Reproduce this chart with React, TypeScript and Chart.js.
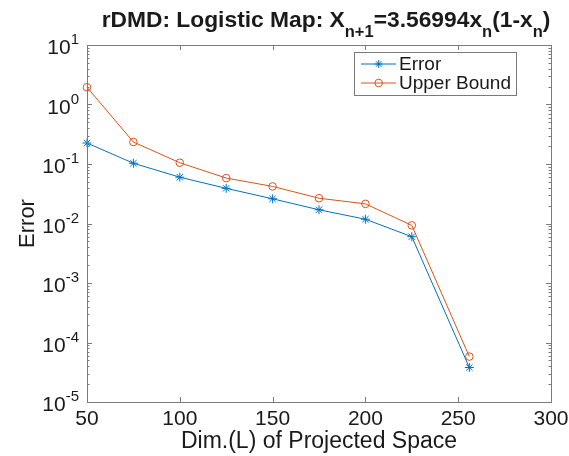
import React, { useEffect, useRef } from "react";
import { Chart, registerables } from "chart.js";

Chart.register(...registerables);

const xValues = [50, 75, 100, 125, 150, 175, 200, 225, 256];
const errorValues = [0.225, 0.103, 0.06, 0.039, 0.026, 0.017, 0.0118, 0.006, 3.8e-5];
const upperBoundValues = [1.95, 0.234, 0.105, 0.058, 0.042, 0.0266, 0.0214, 0.0093, 5.8e-5];
const xTicks = [50, 100, 150, 200, 250, 300];
const yTickExponents = [-5, -4, -3, -2, -1, 0, 1];
const seriesNames = ["Error", "Upper Bound"];
const seriesColors = ["#0072BD", "#D95319"];

const FONT = '"Liberation Sans", Arial, Helvetica, sans-serif';
const TEXT = "#1a1a1a";
const AXIS = "#7a7a7a";

type Part = { t: string; size: number; dy: number; bold?: boolean };

function partsWidth(ctx: CanvasRenderingContext2D, parts: Part[]) {
  let w = 0;
  for (const p of parts) {
    ctx.font = `${p.bold ? "bold " : ""}${p.size}px ${FONT}`;
    w += ctx.measureText(p.t).width;
  }
  return w;
}

function drawParts(ctx: CanvasRenderingContext2D, parts: Part[], x: number, y: number) {
  let cx = x;
  ctx.textAlign = "left";
  ctx.textBaseline = "alphabetic";
  for (const p of parts) {
    ctx.font = `${p.bold ? "bold " : ""}${p.size}px ${FONT}`;
    ctx.fillText(p.t, cx, y + p.dy);
    cx += ctx.measureText(p.t).width;
  }
}

const matlabPlugin = {
  id: "matlabDecor",
  afterDraw(chart: any) {
    const ctx: CanvasRenderingContext2D = chart.ctx;
    const { left, right, top, bottom } = chart.chartArea;
    const xs = chart.scales.x;
    const ys = chart.scales.y;
    ctx.save();

    // axes box
    ctx.strokeStyle = AXIS;
    ctx.lineWidth = 1;
    ctx.strokeRect(left + 0.5, top + 0.5, right - left, bottom - top);

    // x ticks
    ctx.beginPath();
    for (const v of xTicks) {
      const px = Math.round(xs.getPixelForValue(v)) + 0.5;
      ctx.moveTo(px, bottom);
      ctx.lineTo(px, bottom - 5);
      ctx.moveTo(px, top);
      ctx.lineTo(px, top + 5);
    }
    // y ticks (major + minor)
    for (const e of yTickExponents) {
      const py = Math.round(ys.getPixelForValue(Math.pow(10, e))) + 0.5;
      ctx.moveTo(left, py);
      ctx.lineTo(left + 5, py);
      ctx.moveTo(right, py);
      ctx.lineTo(right - 5, py);
      if (e < 1) {
        for (let k = 2; k <= 9; k++) {
          const pm = Math.round(ys.getPixelForValue(k * Math.pow(10, e))) + 0.5;
          ctx.moveTo(left, pm);
          ctx.lineTo(left + 2.5, pm);
          ctx.moveTo(right, pm);
          ctx.lineTo(right - 2.5, pm);
        }
      }
    }
    ctx.stroke();

    // x tick labels
    ctx.fillStyle = TEXT;
    ctx.font = `21px ${FONT}`;
    ctx.textAlign = "center";
    ctx.textBaseline = "alphabetic";
    for (const v of xTicks) {
      ctx.fillText(String(v), xs.getPixelForValue(v), bottom + 23);
    }

    // y tick labels 10^e
    for (const e of yTickExponents) {
      const py = ys.getPixelForValue(Math.pow(10, e));
      const parts: Part[] = [
        { t: "10", size: 21, dy: 0 },
        { t: String(e), size: 15, dy: -10 },
      ];
      const w = partsWidth(ctx, parts);
      drawParts(ctx, parts, left - 8 - w, py + 9);
    }

    // axis titles
    ctx.font = `23px ${FONT}`;
    ctx.textAlign = "center";
    ctx.textBaseline = "alphabetic";
    ctx.fillText("Dim.(L) of Projected Space", (left + right) / 2, bottom + 46);
    ctx.save();
    ctx.translate(34, (top + bottom) / 2);
    ctx.rotate(-Math.PI / 2);
    ctx.font = `22px ${FONT}`;
    ctx.fillText("Error", 0, 0);
    ctx.restore();

    // title
    const tp: Part[] = [
      { t: "rDMD: Logistic Map: X", size: 22.8, dy: 0, bold: true },
      { t: "n+1", size: 16.5, dy: 10, bold: true },
      { t: "=3.56994x", size: 22.8, dy: 0, bold: true },
      { t: "n", size: 16.5, dy: 10, bold: true },
      { t: "(1-x", size: 22.8, dy: 0, bold: true },
      { t: "n", size: 16.5, dy: 10, bold: true },
      { t: ")", size: 22.8, dy: 0, bold: true },
    ];
    const tw = partsWidth(ctx, tp);
    drawParts(ctx, tp, 326 - tw / 2, 27);

    // legend
    const lx = 354, ly = 52, lw = 162, lh = 43;
    ctx.fillStyle = "#ffffff";
    ctx.fillRect(lx, ly, lw, lh);
    ctx.strokeStyle = AXIS;
    ctx.lineWidth = 1;
    ctx.strokeRect(lx + 0.5, ly + 0.5, lw, lh);
    const rowsY = [64, 83];
    for (let i = 0; i < 2; i++) {
      const y = rowsY[i];
      ctx.strokeStyle = seriesColors[i];
      ctx.lineWidth = 1;
      ctx.beginPath();
      ctx.moveTo(361, y);
      ctx.lineTo(396, y);
      ctx.stroke();
      const cx = 378.7;
      ctx.beginPath();
      if (i === 0) {
        const r = 4;
        for (let a = 0; a < 4; a++) {
          const ang = (a * Math.PI) / 4;
          ctx.moveTo(cx - r * Math.cos(ang), y - r * Math.sin(ang));
          ctx.lineTo(cx + r * Math.cos(ang), y + r * Math.sin(ang));
        }
      } else {
        ctx.arc(cx, y, 3.8, 0, Math.PI * 2);
      }
      ctx.stroke();
      ctx.fillStyle = TEXT;
      ctx.font = `19px ${FONT}`;
      ctx.textAlign = "left";
      ctx.textBaseline = "middle";
      ctx.fillText(seriesNames[i], 399, y + 1);
    }

    ctx.restore();
  },
};

export default function App() {
  const ref = useRef<HTMLCanvasElement | null>(null);
  useEffect(() => {
    if (!ref.current) return;
    const chart = new Chart(ref.current, {
      type: "line",
      data: {
        datasets: [
          {
            label: seriesNames[0],
            data: xValues.map((x, i) => ({ x, y: errorValues[i] })),
            borderColor: seriesColors[0],
            backgroundColor: seriesColors[0],
            borderWidth: 1,
            pointStyle: "star",
            pointRadius: 4.5,
            pointBorderWidth: 1,
            pointBorderColor: seriesColors[0],
            clip: false as any,
            tension: 0,
          },
          {
            label: seriesNames[1],
            data: xValues.map((x, i) => ({ x, y: upperBoundValues[i] })),
            borderColor: seriesColors[1],
            backgroundColor: "rgba(0,0,0,0)",
            borderWidth: 1,
            pointStyle: "circle",
            pointRadius: 3.8,
            pointBorderWidth: 1,
            pointBorderColor: seriesColors[1],
            pointBackgroundColor: "rgba(0,0,0,0)",
            clip: false as any,
            tension: 0,
          },
        ],
      },
      options: {
        responsive: false,
        animation: false,
        layout: { padding: { left: 87, top: 45, right: 18, bottom: 54 } },
        plugins: { legend: { display: false }, title: { display: false }, tooltip: { enabled: false } },
        scales: {
          x: { type: "linear", min: 50, max: 300, display: false },
          y: { type: "logarithmic", min: 1e-5, max: 10, display: false },
        },
      },
      plugins: [matlabPlugin],
    });
    return () => chart.destroy();
  }, []);
  return (
    <canvas
      ref={ref}
      width={569}
      height={456}
      style={{ position: "absolute", left: 0, top: 0, width: 569, height: 456, background: "#fff" }}
    />
  );
}
